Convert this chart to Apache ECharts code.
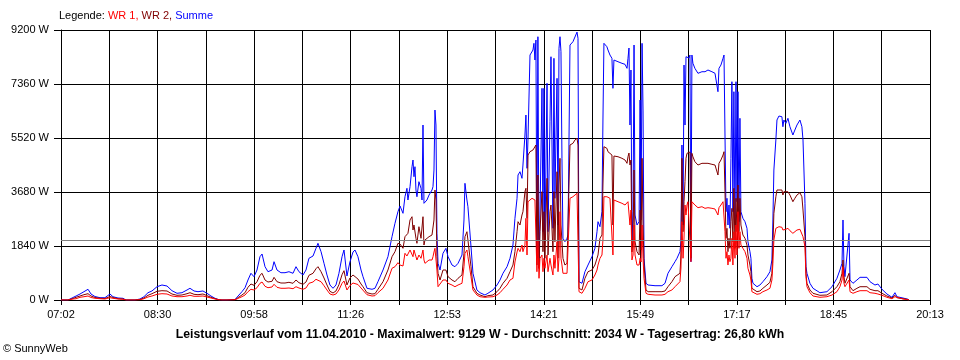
<!DOCTYPE html>
<html><head><meta charset="utf-8">
<script src="https://cdn.jsdelivr.net/npm/echarts/dist/echarts.min.js"></script>
<style>html,body{margin:0;padding:0;background:#fff}#c{width:960px;height:360px}</style>
</head><body><div id="c"></div>
<script>
// x-axis tick labels (every second grid line)
const tickLabels = ['07:02','08:30','09:58','11:26','12:53','14:21','15:49','17:17','18:45','20:13'];
// y-axis ticks
const yMax = 9200, yStep = 1840;
// time of each sample, minutes after midnight
const minuteOfDay = [
422.0,428.4,430.2,432.9,435.7,439.3,442.9,446.6,449.3,452.9,
457.5,462.0,466.6,469.3,473.9,478.4,481.2,489.4,493.9,497.5,
501.2,504.8,509.4,513.9,518.5,523.0,527.6,532.1,536.7,539.4,
543.1,546.7,551.2,554.9,558.5,562.2,565.8,568.5,573.1,580.4,
584.0,586.7,589.5,592.2,594.9,597.7,600.4,603.1,605.0,607.7,
610.4,614.1,615.9,618.6,622.2,625.9,629.5,633.2,635.9,638.6,
642.3,645.0,647.7,651.4,654.1,655.9,658.7,661.4,664.1,666.8,
669.6,672.3,675.0,677.8,679.6,682.3,685.0,687.8,689.6,692.3,
695.1,696.9,700.5,705.1,707.8,710.5,715.1,719.6,723.3,726.0,
728.7,730.6,732.4,733.3,735.1,736.9,737.8,739.7,741.5,742.4,
743.3,744.2,745.1,746.0,747.8,749.7,750.6,751.5,752.4,753.3,
755.1,757.0,759.7,760.6,761.5,762.4,763.3,764.2,765.2,767.0,
769.7,772.4,774.3,777.9,780.6,783.4,787.0,788.8,789.7,791.5,
792.4,795.2,797.0,800.6,803.4,807.9,810.6,815.2,818.9,821.6,
824.3,828.0,830.7,833.4,835.2,837.1,838.0,839.8,841.6,842.5,
844.3,845.2,846.2,847.1,848.9,850.7,851.6,852.5,853.4,854.3,
855.2,856.1,857.1,858.0,859.8,860.7,861.6,862.5,864.4,865.3,
867.1,868.0,869.8,870.7,871.6,873.5,874.4,875.3,876.2,877.1,
878.0,878.9,880.7,882.6,883.5,885.3,887.1,888.0,889.8,891.7,
892.6,893.5,896.2,898.9,901.7,905.3,908.0,909.9,910.8,912.6,
914.4,915.3,916.2,918.9,919.9,921.7,923.5,924.4,925.3,926.3,
929.0,932.6,935.4,937.2,938.1,939.0,939.9,940.8,941.7,942.7,
943.6,944.5,946.3,948.2,949.1,950.0,950.9,951.8,952.7,954.5,
956.4,962.7,969.0,971.8,974.5,978.1,980.9,982.7,985.4,986.3,
987.2,988.2,989.1,990.0,990.9,991.8,992.7,993.6,994.5,995.4,
996.3,997.2,999.0,1001.8,1005.4,1008.2,1010.9,1014.5,1017.3,1019.1,
1020.0,1020.9,1022.7,1023.6,1024.6,1025.5,1026.4,1027.3,1028.2,1029.1,
1030.0,1030.9,1031.8,1032.7,1033.6,1034.5,1035.5,1036.4,1037.3,1038.2,
1039.1,1040.0,1040.9,1041.8,1042.7,1044.6,1046.4,1047.3,1049.1,1050.0,
1050.9,1051.9,1055.5,1058.2,1060.9,1064.6,1067.3,1069.1,1070.0,1070.9,
1072.7,1073.7,1075.5,1078.2,1079.1,1080.0,1081.8,1083.7,1085.5,1088.2,
1090.0,1091.9,1094.6,1096.4,1097.4,1099.2,1100.1,1101.0,1103.7,1106.5,
1112.8,1119.2,1123.8,1128.3,1131.0,1132.9,1133.8,1134.7,1135.6,1137.4,
1139.3,1140.2,1142.9,1146.5,1149.3,1155.6,1158.4,1162.9,1165.6,1169.3,
1173.8,1178.4,1181.1,1182.9,1188.4,1193.0,1193.9
];
// Summe (W)
const summe = [
0,0,34,85,136,204,283,365,204,119,
78,78,204,112,68,58,0,0,34,112,
249,307,453,511,477,317,228,249,341,399,
307,283,307,228,136,58,10,0,0,17,
170,283,419,681,910,794,1022,1475,1567,1135,
964,1022,1305,1022,930,930,964,910,1135,964,
852,1022,1421,1499,1761,1932,1646,1250,852,511,
399,511,910,1475,1704,818,1295,1635,1704,1475,
1022,794,399,365,399,623,1022,1475,2157,2613,
3008,3203,3203,2954,3519,3806,3407,3860,4542,4770,
4201,4542,3748,3519,4031,3806,3407,5962,3295,3295,
3407,3577,3748,3860,4429,6473,5962,2272,1250,1022,
1591,1761,1475,1192,1135,1250,1533,2726,3976,3407,
3179,1816,910,341,249,170,228,341,511,681,
910,1135,1421,1874,2783,3465,4259,4371,4146,4599,
5622,6303,4487,5509,8347,8405,8518,8746,8177,8858,
1421,8971,1080,2896,7213,2327,7213,1986,7383,2327,
6075,8289,2443,8235,3465,7553,2555,8575,8971,8460,
4828,2102,1986,2102,2215,8688,8746,8800,8858,9129,
8916,623,569,964,1192,1475,1761,2327,2668,2497,
3008,6133,8746,8630,8518,8347,8235,7213,8177,8235,
8119,8065,8030,7894,8235,8586,5962,7836,2044,3008,
8688,2896,2555,2668,6814,2726,8746,6473,1421,569,
511,487,487,569,910,1135,1305,1421,1646,1986,
5281,2555,8006,5962,8289,8235,8347,8245,8347,1305,
8347,8065,7894,7724,7778,7778,7836,7778,7724,7666,
7097,7894,8006,7949,8235,8347,5622,3008,3465,2555,
3237,2443,4828,7438,3008,7097,2555,7438,3349,7097,
2668,6191,3008,2896,2783,2668,2443,1986,1646,1421,
739,569,453,511,623,794,964,1363,2726,4429,
5451,6133,6269,6245,5904,6133,6020,6191,5904,5622,
5792,5962,6133,5904,5451,3295,1135,910,569,399,
249,283,453,739,1022,1250,2726,1135,794,852,
2272,681,569,681,773,773,623,511,545,365,
204,92,249,112,68,24,0
];
// WR 2 (W)
const wr2 = [
0,0,17,51,92,136,181,215,136,85,
58,51,119,85,44,34,0,0,17,68,
160,215,296,317,307,204,160,170,215,249,
194,181,204,147,92,44,7,0,0,10,
102,170,249,433,545,501,623,842,910,681,
613,637,773,623,579,579,603,569,681,589,
535,613,842,910,1066,1135,964,750,511,296,
238,307,521,862,998,511,750,852,852,715,
545,453,249,204,215,365,623,1022,1475,1646,
1932,1908,1874,1761,2157,2112,2272,2726,2838,2385,
2555,2555,2102,1932,2497,2102,2044,2838,1874,2044,
1986,2157,2215,2272,2726,3748,3407,1475,910,681,
1022,1022,794,681,623,739,852,1591,2157,2327,
2044,1135,453,228,170,112,147,170,283,399,
569,739,964,1192,1646,2327,2668,2555,2896,3008,
3690,3806,2783,4940,5053,5008,5111,5179,5111,5281,
1192,4259,1080,2327,3690,1646,3008,1421,4146,1533,
3008,3237,1646,3690,1986,4371,1421,3918,4828,2555,
2555,1421,1192,1250,1305,5281,5281,5339,5451,5509,
5281,399,341,739,964,1022,1192,1421,1533,2102,
2215,3918,5223,5168,5053,4998,4940,2555,4906,4882,
4882,4828,4770,4657,4882,5008,4599,4770,1635,2102,
4429,1986,1646,1533,3066,1704,4828,2555,1192,341,
283,283,283,307,453,623,794,794,910,1533,
4828,2327,3349,4031,4828,4998,4998,4998,5042,1421,
4998,4882,4712,4599,4657,4657,4657,4623,4599,4542,
4259,4657,4770,4770,4940,5053,3690,2102,2443,1646,
2102,1761,2668,3124,1986,3806,1761,3465,2327,3918,
2327,3465,2555,2385,2215,2102,1874,1533,1192,964,
399,341,283,307,399,511,603,910,1816,2954,
3519,3748,3748,3748,3577,3690,3635,3690,3577,3349,
3465,3577,3656,3519,3066,2157,910,569,341,228,
160,170,283,453,623,910,1363,794,569,569,
910,453,317,399,453,453,365,317,317,228,
136,68,160,78,44,17,0
];
// WR 1 (W)
const wr1 = [
0,0,10,34,44,92,112,136,85,58,
44,34,78,58,34,24,0,0,10,44,
102,136,194,215,204,136,112,112,136,160,
126,126,136,102,68,34,7,0,0,7,
68,112,170,283,365,341,419,569,613,467,
419,443,535,433,399,399,409,385,453,409,
365,409,569,613,705,750,623,487,341,204,
170,204,341,569,647,341,494,579,589,528,
409,341,181,136,147,249,399,681,1080,1135,
1271,1192,1192,1158,1591,1499,1475,1704,1761,1475,
1704,1646,1475,1363,1533,1421,1431,1704,1363,1250,
1271,1363,1363,1475,1635,1761,1704,1022,453,399,
681,681,569,511,453,511,569,1135,1591,1704,
1475,794,341,170,112,92,102,112,170,249,
365,511,681,739,1295,1635,1761,1646,1874,1646,
1874,2783,1533,3349,3349,3465,3407,3465,3407,3475,
964,2044,739,1421,1533,964,1421,1080,1533,964,
1421,1192,852,1533,1080,1986,964,1421,3008,1421,
1192,910,852,910,964,3465,3519,3519,3577,3635,
3577,283,228,399,623,681,852,1022,1192,1421,
1533,2044,3519,3519,3485,3465,3407,1533,3407,3373,
3349,3295,3237,3237,3349,3407,2555,3066,1363,1533,
2555,1533,1192,1192,1421,1295,2555,1421,739,228,
194,170,170,194,283,341,453,511,623,1090,
2668,1421,2112,3237,2896,3237,3349,3305,3349,1305,
3349,3295,3237,3145,3179,3124,3145,3124,3100,3066,
2896,3145,3237,3237,3349,3407,2327,1421,1646,1192,
1533,1305,1421,2102,1192,2327,1421,2555,1533,3008,
1761,2327,1874,1874,1761,1646,1421,1080,852,681,
283,228,194,215,283,341,399,681,1250,2044,
2443,2497,2497,2477,2385,2443,2409,2443,2361,2272,
2327,2385,2409,2385,2157,1816,794,453,249,136,
92,112,170,283,453,681,1135,569,453,399,
681,283,228,283,317,317,249,228,204,160,
92,44,112,58,34,10,0
];
const averageW = 2034;
const titleText = 'Leistungsverlauf vom 11.04.2010 - Maximalwert: 9129 W - Durchschnitt: 2034 W - Tagesertrag: 26,80 kWh';

// axis runs from 07:02 to 20:13 in 18 equal grid steps
const startMin = 7 * 60 + 2, endMin = 20 * 60 + 13, gridSteps = 18;
const stepMin = (endMin - startMin) / gridSteps;
const toPairs = vals => minuteOfDay.map((m, i) => [(m - startMin) / stepMin, vals[i]]);

const FF = '"Liberation Sans", Arial, sans-serif';
const chart = echarts.init(document.getElementById('c'), null, {renderer: 'canvas'});
const lineSeries = (name, vals, color, extra) => Object.assign({
  name, type: 'line', data: toPairs(vals), symbol: 'none', showSymbol: false,
  lineStyle: {color, width: 1}, itemStyle: {color}, silent: true, animation: false
}, extra || {});

chart.setOption({
  animation: false,
  backgroundColor: '#fff',
  textStyle: {fontFamily: FF},
  title: [
    {text: '{k|Legende: }{a|WR 1, }{b|WR 2, }{c|Summe}', left: 59, top: 10, padding: 0,
     textStyle: {fontSize: 11, fontWeight: 'normal', fontFamily: FF,
       rich: {k: {color: '#000', fontSize: 11, fontFamily: FF},
              a: {color: '#ff0000', fontSize: 11, fontFamily: FF},
              b: {color: '#800000', fontSize: 11, fontFamily: FF},
              c: {color: '#0000ff', fontSize: 11, fontFamily: FF}}}},
    {text: titleText, left: 'center', top: 329, padding: 0,
     textStyle: {fontSize: 12.25, fontWeight: 'bold', color: '#000', fontFamily: FF}},
    {text: '\u00a9 SunnyWeb', left: 3, top: 343, padding: 0,
     textStyle: {fontSize: 11, fontWeight: 'normal', color: '#000', fontFamily: FF}}
  ],
  grid: {left: 61, right: 30, top: 30, bottom: 60, containLabel: false},
  xAxis: {
    type: 'value', min: 0, max: gridSteps, interval: 1,
    axisLine: {show: true, lineStyle: {color: '#000', width: 1}},
    axisTick: {show: true, length: 5, lineStyle: {color: '#000'}},
    axisLabel: {color: '#000', fontSize: 11, fontFamily: FF, margin: 9,
      showMinLabel: true, showMaxLabel: true,
      formatter: v => { const k = Math.round(v); return k % 2 === 0 ? tickLabels[k / 2] : ''; }},
    splitLine: {show: true, lineStyle: {color: '#000', width: 1}}
  },
  yAxis: {
    type: 'value', min: 0, max: yMax, interval: yStep,
    axisLine: {show: true, lineStyle: {color: '#000', width: 1}},
    axisTick: {show: true, length: 7, lineStyle: {color: '#000'}},
    axisLabel: {color: '#000', fontSize: 11, fontFamily: FF, margin: 12,
      formatter: v => String(Math.round(v)) + ' W'},
    splitLine: {show: true, lineStyle: {color: '#000', width: 1}}
  },
  series: [
    lineSeries('Summe', summe, '#0000ff', {
      markLine: {silent: true, symbol: 'none', animation: false, label: {show: false},
        lineStyle: {color: '#808080', type: 'solid', width: 1},
        data: [{yAxis: averageW}]}
    }),
    lineSeries('WR 2', wr2, '#800000'),
    lineSeries('WR 1', wr1, '#ff0000')
  ]
});
</script>
</body></html>
